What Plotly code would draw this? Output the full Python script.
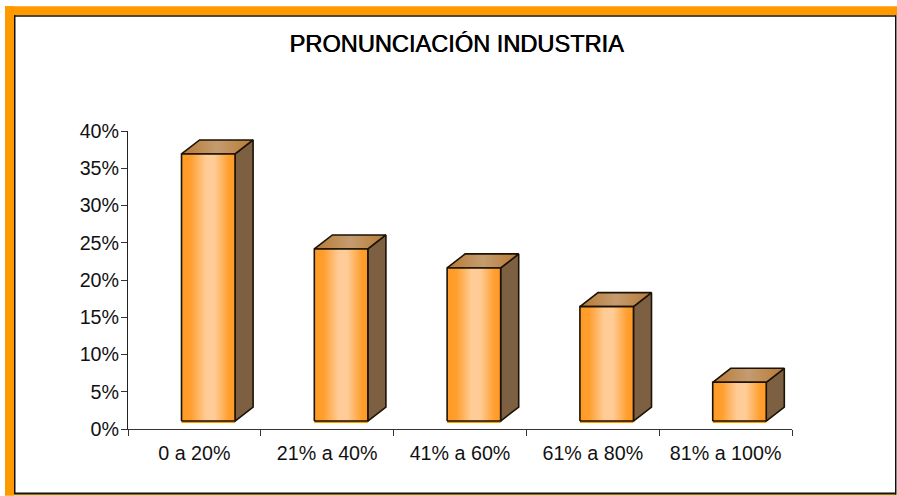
import plotly.graph_objects as go

categories = ["0 a 20%", "21% a 40%", "41% a 60%", "61% a 80%", "81% a 100%"]
values = [35.85, 23.1, 20.55, 15.35, 5.2]
y_ticks = [0, 5, 10, 15, 20, 25, 30, 35, 40]
title = "PRONUNCIACIÓN INDUSTRIA"

W, H = 897, 496
L, R, T, B = 128, 792, 131, 429.5
FONT = "Liberation Sans, Arial, sans-serif"
ORANGE = "#ff9900"
OUT = "#1c1206"

BASE = 1.07      # floor height of the 3D box front, in % units
BAR_L = 0.403    # left edge of front inside a category
BAR_W = 0.403    # front width, in category units
DX = 0.136       # depth along x
DY = 1.88        # depth along y, in % units

fig = go.Figure()


def poly(xs, ys, **kw):
    fig.add_trace(go.Scatter(
        x=xs + xs[:1], y=ys + ys[:1], mode="lines", fill="toself",
        line=dict(color=OUT, width=1.6), hoverinfo="skip", showlegend=False, **kw))


front_scale = [[0, "#ff9a22"], [0.18, "#ff9f30"], [0.45, "#ffcb96"], [0.62, "#ffcb96"],
               [0.88, "#ff9f30"], [1, "#ff9a22"]]
top_scale = [[0, "#b87a34"], [0.5, "#c49c70"], [1, "#b87a34"]]

for i, v in enumerate(values):
    x0 = i + BAR_L
    x1 = x0 + BAR_W
    y0 = BASE
    y1 = BASE + v
    fig.add_trace(go.Scatter(x=[x0, x1], y=[y0 - 0.14, y0 - 0.14], mode="lines",
                             line=dict(color=ORANGE, width=2), hoverinfo="skip", showlegend=False))
    poly([x1, x1 + DX, x1 + DX, x1], [y0, y0 + DY, y1 + DY, y1], fillcolor="#7d6042")
    poly([x0, x0 + DX, x1 + DX, x1], [y1, y1 + DY, y1 + DY, y1],
         fillgradient=dict(type="horizontal", colorscale=top_scale))
    poly([x0, x1, x1, x0], [y0, y0, y1, y1],
         fillgradient=dict(type="horizontal", colorscale=front_scale))


def px(a):
    return (a - L) / (R - L)


def py(a):
    return (B - a) / (B - T)


def rect(xa, xb, ya, yb, color):
    return dict(type="rect", xref="paper", yref="paper", layer="below", line_width=0, fillcolor=color,
                x0=px(xa), x1=px(xb), y0=py(yb), y1=py(ya))


shapes = [
    rect(5, W, 6, 15, ORANGE),
    rect(5, 14, 6, H, ORANGE),
    rect(5, W, 495, H, ORANGE),
    rect(14, 896, 15, 16.5, "#111111"),
    rect(14, 15.5, 15, 494, "#111111"),
    rect(14, 896, 493, 495, "#111111"),
    rect(895, 896.5, 15, 495, "#111111"),
]

fig.update_layout(
    width=W, height=H, autosize=False,
    margin=dict(l=L, r=W - R, t=T, b=H - B),
    paper_bgcolor="white", plot_bgcolor="white",
    font=dict(family=FONT, color="#111111", size=19),
    showlegend=False, shapes=shapes,
    title=dict(text=title, x=456.5 / W, xanchor="center", y=1 - 44 / H, yanchor="middle",
               font=dict(family=FONT, size=23.6, color="#000000", shadow="0.6px 0 0 #000000")),
    xaxis=dict(range=[0, 5], tickmode="array", tickvals=[i + 0.5 for i in range(5)], ticktext=categories,
               ticks="", showgrid=False, zeroline=False, showline=True, linecolor="#333333", linewidth=1,
               tickfont=dict(size=19.7), fixedrange=True, ticklabelstandoff=6,
               minor=dict(tickmode="array", tickvals=list(range(6)), ticks="outside", ticklen=6,
                          tickcolor="#333333", tickwidth=1, showgrid=False)),
    yaxis=dict(range=[0, 40], tickmode="array", tickvals=y_ticks, ticktext=[f"{t}%" for t in y_ticks],
               ticks="outside", ticklen=6, tickcolor="#333333", tickwidth=1, showgrid=False, zeroline=False,
               showline=True, linecolor="#222222", linewidth=1, tickfont=dict(size=19.7), fixedrange=True,
               ticklabelstandoff=-2),
)

fig.write_html("out.html", config=dict(displayModeBar=False),
               post_script="document.body.style.margin='0';document.documentElement.style.overflow='hidden';")
